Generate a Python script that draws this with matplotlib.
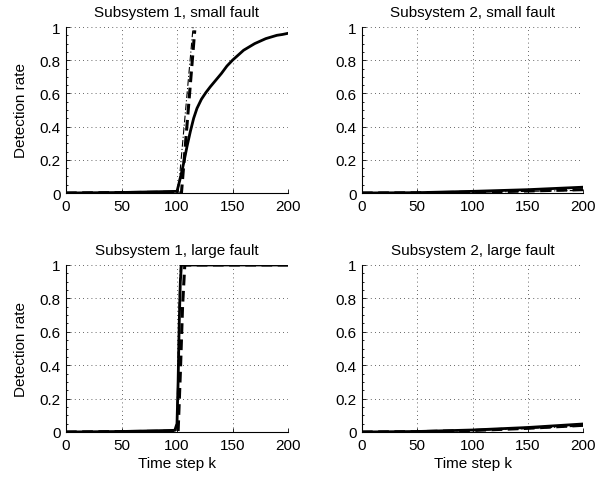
import numpy as np
import matplotlib
matplotlib.use("Agg")
import matplotlib.pyplot as plt
from matplotlib.ticker import MultipleLocator

plt.rcParams['font.family'] = ['Liberation Sans', 'DejaVu Sans']

titles = ["Subsystem 1, small fault", "Subsystem 2, small fault",
          "Subsystem 1, large fault", "Subsystem 2, large fault"]
xticks = [0, 50, 100, 150, 200]
yticks = [0, 0.2, 0.4, 0.6, 0.8, 1]
ytick_labels = ["0", "0.2", "0.4", "0.6", "0.8", "1"]

# Subsystem 1, small fault
s1s_solid_k = [0, 50, 100, 103, 106, 109, 112, 115, 118, 122, 126, 130, 135, 140, 145,
               150, 155, 160, 165, 170, 175, 180, 185, 190, 195, 200]
s1s_solid_v = [0, 0.003, 0.01, 0.09, 0.18, 0.28, 0.37, 0.45, 0.51, 0.565, 0.605, 0.64, 0.68,
               0.72, 0.765, 0.80, 0.83, 0.86, 0.88, 0.90, 0.915, 0.93, 0.94, 0.95, 0.955, 0.962]
s1s_dash_k = [0, 100, 104, 116]
s1s_dash_v = [0, 0.005, 0.0, 0.98]
s1s_dd_k = [0, 100, 101, 114.5]
s1s_dd_v = [0, 0.005, 0.0, 1.0]

# Subsystem 2, small fault
s2s_solid_k = [0, 50, 100, 150, 200]
s2s_solid_v = [0, 0.002, 0.01, 0.02, 0.035]
s2s_dash_k = [0, 50, 100, 150, 200]
s2s_dash_v = [0, 0.001, 0.005, 0.012, 0.02]
s2s_dd_k = [0, 50, 100, 150, 200]
s2s_dd_v = [0, 0.001, 0.004, 0.01, 0.016]

# Subsystem 1, large fault
s1l_solid_k = [0, 50, 98, 100, 101, 102, 103, 104, 200]
s1l_solid_v = [0, 0.003, 0.01, 0.05, 0.3, 0.65, 0.9, 1.0, 1.0]
s1l_dash_k = [0, 100, 101, 103, 105, 107, 200]
s1l_dash_v = [0, 0.005, 0.0, 0.35, 0.75, 1.0, 1.0]
s1l_dd_k = [0, 99, 100, 101, 102, 103, 200]
s1l_dd_v = [0, 0.005, 0.1, 0.45, 0.8, 1.0, 1.0]

# Subsystem 2, large fault
s2l_solid_k = [0, 50, 100, 150, 200]
s2l_solid_v = [0, 0.003, 0.012, 0.027, 0.048]
s2l_dash_k = [0, 50, 100, 150, 200]
s2l_dash_v = [0, 0.002, 0.009, 0.022, 0.04]
s2l_dd_k = [0, 50, 100, 150, 200]
s2l_dd_v = [0, 0.002, 0.008, 0.02, 0.036]

panels = [
    (s1s_solid_k, s1s_solid_v, s1s_dash_k, s1s_dash_v, s1s_dd_k, s1s_dd_v),
    (s2s_solid_k, s2s_solid_v, s2s_dash_k, s2s_dash_v, s2s_dd_k, s2s_dd_v),
    (s1l_solid_k, s1l_solid_v, s1l_dash_k, s1l_dash_v, s1l_dd_k, s1l_dd_v),
    (s2l_solid_k, s2l_solid_v, s2l_dash_k, s2l_dash_v, s2l_dd_k, s2l_dd_v),
]

fig = plt.figure(figsize=(6.11, 4.81), dpi=100)
W, H = 611, 481
rects = [
    (66 / W, 1 - 194 / H, 222 / W, 166 / H),
    (362 / W, 1 - 194 / H, 221 / W, 166 / H),
    (66 / W, 1 - 433 / H, 222 / W, 167 / H),
    (362 / W, 1 - 433 / H, 221 / W, 167 / H),
]

fs = 11
for i, (rect, data, title) in enumerate(zip(rects, panels, titles)):
    ax = fig.add_axes(rect)
    sk, sv, dk, dv, ddk, ddv = data
    ax.plot(ddk, ddv, color='black', lw=0.8, ls=(0, (6, 2, 1, 2)), zorder=3)
    ax.plot(dk, dv, color='black', lw=2.2, ls=(0, (3.5, 1.8)), zorder=3)
    ax.plot(sk, sv, color='black', lw=2.0, ls='-', zorder=4)
    ax.set_xlim(0, 200)
    ax.set_ylim(0, 1)
    ax.set_xticks(xticks)
    ax.set_xticklabels([str(x) for x in xticks])
    ax.set_yticks(yticks)
    ax.set_yticklabels(ytick_labels)
    ax.yaxis.set_minor_locator(MultipleLocator(0.05))
    ax.tick_params(which='both', direction='in', labelsize=fs, top=False, right=False,
                   width=0.6, colors='black')
    ax.tick_params(which='major', length=3, pad=4)
    ax.tick_params(which='minor', length=1.5)
    ax.grid(True, which='major', ls=(0, (1, 4)), color='#333333', lw=0.6)
    for s in ['top', 'right']:
        ax.spines[s].set_visible(False)
    for s in ['left', 'bottom']:
        ax.spines[s].set_linewidth(0.8)
    ax.set_title(title, fontsize=fs, pad=8)
    if i % 2 == 0:
        ax.set_ylabel("Detection rate", fontsize=fs, labelpad=8)
    if i >= 2:
        ax.set_xlabel("Time step k", fontsize=fs, labelpad=3)

fig.savefig("out.png", dpi=100)
